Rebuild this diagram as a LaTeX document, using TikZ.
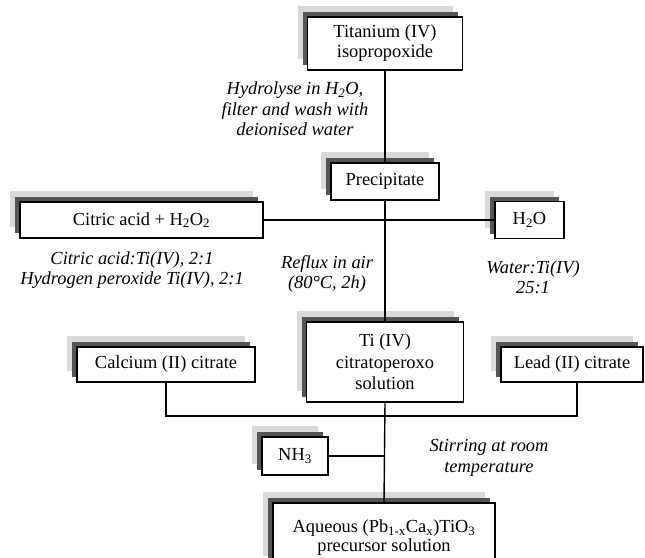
\documentclass[tikz,border=0pt]{standalone}
\usepackage{fontspec}
\setmainfont{Liberation Serif}
\usetikzlibrary{shadows}
\definecolor{shlight}{HTML}{D9D9D9}
\definecolor{shdark}{HTML}{555555}
\begin{document}
\begin{tikzpicture}[x=1pt,y=-1pt,
  every node/.style={font=\fontsize{18.4}{20}\selectfont},
  box/.style={draw, line width=1.4pt, fill=white, align=center, inner sep=0pt,
    general shadow={fill=shlight, shadow xshift=-10pt, shadow yshift=11pt},
    general shadow={fill=shdark, shadow xshift=-5pt, shadow yshift=5pt}},
  lbl/.style={align=center, inner sep=0pt, font=\fontsize{18.4}{20.5}\selectfont\itshape},
  conn/.style={line width=1.4pt}]
\useasboundingbox (0,0) rectangle (645,557);
\clip (0,0) rectangle (645,557);
% boxes
\node[box, minimum width=155pt, minimum height=53pt] (tit) at (385,43.5) {Titanium (IV)\\isopropoxide};
\node[box, minimum width=108pt, minimum height=37pt] (pre) at (385,181.5) {Precipitate};
\node[box, minimum width=243pt, minimum height=36pt] (cit) at (141.5,220) {Citric acid + H\textsubscript{2}O\textsubscript{2}};
\node[box, minimum width=69pt, minimum height=37pt] (hwo) at (529.5,220) {H\textsubscript{2}O};
\node[box, minimum width=157pt, minimum height=80pt, font=\fontsize{18.4}{21.5}\selectfont] (tic) at (385,362) {Ti (IV)\\citratoperoxo\\solution};
\node[box, minimum width=178pt, minimum height=35pt] (cal) at (166,364.5) {Calcium (II) citrate};
\node[box, minimum width=142pt, minimum height=35pt] (lea) at (572,364.5) {Lead (II) citrate};
\node[box, minimum width=66pt, minimum height=38pt] (nh) at (295,456) {NH\textsubscript{3}};
\node[box, minimum width=222pt, minimum height=64pt, text depth=0pt] (aq) at (384,535) {};
\node[align=center, inner sep=0pt, font=\fontsize{18.4}{19}\selectfont] (aqt) at (384,538) {Aqueous (Pb\textsubscript{1-x}Ca\textsubscript{x})TiO\textsubscript{3}\\precursor solution};
% labels
\node[lbl] (hyd) at (295,109) {Hydrolyse in H\textsubscript{2}O,\\filter and wash with\\deionised water};
\node[lbl] (rat) at (132,270) {Citric acid:Ti(IV), 2:1\\Hydrogen peroxide Ti(IV), 2:1};
\node[lbl] (ref) at (327,274) {Reflux in air\\(80°C, 2h)};
\node[lbl] (wat) at (533,277) {Water:Ti(IV)\\25:1};
\node[lbl] (sti) at (489,458) {Stirring at room\\temperature};
% connectors
\coordinate (j) at (385,416);
\draw[conn] (tit.south) -- (pre.north);
\draw[conn] (pre.south) -- (tic.north);
\draw[conn] (cit.east) -- (hwo.west);
\draw[conn] (tic.south) -- (aq.north);
\draw[conn] (cal.south) |- (j) -| ([xshift=5pt]lea.south);
\draw[conn] (nh.east) -- (nh.east -| tic.south);
\end{tikzpicture}
\end{document}
